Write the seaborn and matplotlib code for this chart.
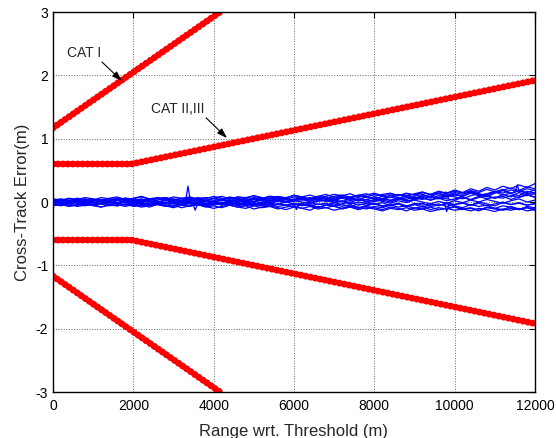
import numpy as np
import pandas as pd
import matplotlib
matplotlib.use("Agg")
import matplotlib.pyplot as plt
import seaborn as sns

# red limit lines (knots, metres)
cat1_x = [0, 4160]
cat1_y = [1.17, 3.0]
cat23_x = [0, 1950, 12000]
cat23_y = [0.6, 0.6, 1.92]

# blue cross-track traces, sampled every 200 m, values in cm
noise_x = [0, 200, 400, 600, 800, 1000, 1200, 1400, 1600, 1800,
           2000, 2200, 2400, 2600, 2800, 3000, 3200, 3400, 3600, 3800,
           4000, 4200, 4400, 4600, 4800, 5000, 5200, 5400, 5600, 5800,
           6000, 6200, 6400, 6600, 6800, 7000, 7200, 7400, 7600, 7800,
           8000, 8200, 8400, 8600, 8800, 9000, 9200, 9400, 9600, 9800,
           10000, 10200, 10400, 10600, 10800, 11000, 11200, 11400, 11600, 11800, 12000]
traces_cm = [
    [3, 5, 2, 6, 4, 3, 7, 5, 4, 6, 5, 8, 4, 6, 7, 3, 6, 8, 5, 7,
     6, 9, 5, 8, 7, 10, 6, 9, 8, 7, 10, 8, 11, 7, 9, 12, 10, 8, 11, 13,
     9, 12, 14, 10, 13, 11, 15, 12, 16, 13, 17, 14, 18, 15, 20, 16, 19, 22, 18, 24, 21],
    [-4, -6, -3, -7, -5, -4, -8, -5, -6, -3, -7, -5, -8, -4, -6, -9, -5, -7, -4, -8,
     -6, -9, -5, -8, -10, -6, -9, -7, -11, -8, -6, -10, -13, -7, -9, -6, -11, -8, -10, -7,
     -9, -12, -8, -10, -14, -9, -11, -8, -12, -10, -7, -11, -9, -13, -8, -10, -12, -7, -11, -9, -13],
    [0, -2, 1, -1, 2, 0, -3, 1, -1, 2, 0, 3, -2, 1, -1, 2, -1, 4, 0, 2,
     1, -2, 3, 0, 2, -1, 4, 1, 3, 0, 2, 5, -1, 3, 1, 4, 0, 6, 2, 4,
     1, 5, 3, 7, 2, 4, 6, 3, 8, 5, 3, 7, 4, 9, 5, 8, 6, 10, 7, 11, 8],
    [2, 4, 1, 3, 5, 2, 4, 3, 6, 2, 4, 2, 5, 3, 7, 4, 2, 6, 4, 3,
     5, 3, 7, 4, 2, 6, 5, 8, 4, 6, 3, 7, 5, 9, 6, 4, 8, 6, 10, 7,
     5, 9, 7, 11, 8, 6, 10, 9, 13, 8, 11, 9, 14, 10, 12, 16, 11, 14, 18, 13, 15],
    [-2, -1, -3, 0, -2, -4, -1, -3, -2, 0, -3, -1, -4, -2, 0, -3, -5, -2, -1, -4,
     -2, -5, -3, -1, -4, -6, -2, -4, -3, -5, -4, -2, -6, -3, -5, -1, -4, -7, -3, -5,
     -2, -6, -4, -3, -7, -2, -5, -3, -6, -1, -4, -2, -5, 0, -3, -6, -1, -4, -2, -5, -3],
    [1, -1, 0, 2, -2, 1, 3, -1, 2, 4, 2, 5, 1, 3, 6, 2, 0, 3, 1, -2,
     0, -3, -1, -4, -2, 1, -1, 2, 4, 1, 5, 3, 7, 4, 2, -1, 1, -3, 0, -2,
     1, 3, 0, 4, 7, 5, 9, 6, 10, 8, 12, 9, 15, 11, 13, 17, 14, 19, 16, 21, 18],
    [-1, 1, -2, 0, 1, -1, -3, 0, -2, 1, -1, -4, -2, 0, -3, -1, 1, -2, -5, -3,
     -1, -4, -2, -6, -3, -5, -2, -4, -7, -5, -8, -4, -6, -9, -5, -7, -10, -6, -8, -11,
     -7, -9, -5, -8, -6, -10, -7, -12, -9, -11, -8, -12, -10, -14, -9, -11, -13, -10, -12, -9, -11],
    [4, 2, 5, 3, 1, 4, 2, 5, 3, 6, 3, 1, 4, 6, 2, 5, 3, 7, 4, 2,
     6, 4, 8, 5, 3, 7, 5, 9, 6, 4, 8, 6, 3, 7, 5, 9, 11, 7, 10, 8,
     12, 9, 13, 10, 14, 11, 15, 12, 17, 14, 19, 15, 21, 17, 23, 19, 25, 21, 27, 23, 29],
    [-5, -3, -6, -4, -2, -5, -3, -6, -4, -7, -4, -2, -5, -3, -6, -2, -4, -1, -3, -5,
     -2, 0, -3, 1, -1, -4, 0, -2, 1, -1, 2, 0, -2, 1, 3, 0, 2, -1, 4, 1,
     3, 6, 2, 5, 1, 4, 7, 3, 6, 2, 5, 8, 3, 7, 10, 6, 9, 4, 8, 12, 7],
    [0, 2, -1, 3, 1, -1, 2, 0, -2, 1, 3, 0, 2, -1, 4, 1, 3, 0, 5, 2,
     -1, 3, 0, 4, 1, 5, 2, -1, 3, 6, 2, 4, 1, 5, 8, 3, 6, 2, 5, 0,
     4, 1, -2, 2, -1, 3, 0, -3, 1, -2, 2, -1, 3, 0, 4, 1, -2, 2, 5, 0, 3],
    [-3, -5, -2, -4, -6, -3, -1, -4, -2, -5, -3, -6, -4, -2, -5, -7, -3, -5, -2, -6,
     -4, -1, -5, -3, -6, -2, -4, -7, -3, -5, -2, -6, -4, -8, -5, -3, -7, -4, -9, -6,
     -3, -7, -5, -2, -6, -4, -8, -5, -3, -7, -4, -1, -5, -2, -6, -3, 0, -4, -1, -5, -2],
    [5, 3, 6, 4, 7, 5, 3, 6, 8, 4, 6, 9, 5, 7, 4, 8, 6, 3, 7, 5,
     9, 6, 4, 8, 5, 10, 7, 4, 9, 6, 11, 8, 5, 9, 12, 7, 10, 13, 8, 11,
     14, 10, 7, 12, 9, 13, 16, 11, 14, 10, 15, 12, 17, 13, 10, 16, 20, 14, 18, 15, 19],
    [-1, -3, 0, -2, -4, -1, -3, 1, -2, -4, 0, -2, -5, -1, -3, 0, -4, -2, 1, -3,
     -5, -2, 0, -3, -1, -4, -6, -2, -4, 0, -3, -5, -1, -4, -2, -6, -3, 0, -5, -2,
     -4, -1, -6, -3, -8, -4, -2, -7, -5, -3, -6, -9, -4, -7, -5, -10, -6, -8, -12, -7, -9],
    [2, 0, 3, 1, -1, 2, 4, 1, 3, 0, 2, 4, 1, -1, 3, 0, 2, 5, 1, 3,
     0, 4, 2, 6, 3, 1, 5, 2, 7, 4, 1, 6, 3, 8, 4, 2, 7, 5, 3, 9,
     6, 3, 8, 5, 10, 7, 4, 9, 6, 11, 8, 5, 10, 13, 9, 6, 12, 8, 15, 10, 13],
    [-6, -4, -7, -5, -3, -6, -8, -4, -6, -3, -5, -8, -6, -4, -7, -5, -9, -6, -4, -7,
     -10, -7, -5, -8, -6, -11, -8, -6, -9, -12, -8, -10, -7, -11, -9, -13, -10, -8, -12, -9,
     -11, -14, -10, -12, -9, -13, -11, -15, -12, -10, -13, -11, -14, -10, -12, -15, -11, -13, -10, -14, -12],
    [1, 3, 2, 0, 2, 4, 1, 3, -1, 2, 1, -1, 2, 0, 3, 1, -2, 1, 3, 0,
     2, 5, 1, 3, 0, 4, 2, 6, 3, 1, 4, 7, 3, 5, 2, 6, 9, 4, 7, 3,
     8, 5, 11, 7, 4, 9, 12, 8, 5, 10, 13, 9, 16, 12, 8, 14, 18, 13, 10, 17, 14],
]
# short spikes and dips seen in the traces
spike_x = [[3300, 3360, 3420], [3480, 3540, 3600], [6000, 6060, 6120],
           [9700, 9780, 9850], [9750, 9800, 9860], [11500, 11560, 11620]]
spike_y = [[0.01, 0.25, 0.02], [-0.02, -0.13, -0.03], [-0.02, -0.12, -0.03],
           [0.05, 0.16, 0.06], [-0.03, -0.15, -0.04], [0.14, 0.27, 0.15]]

rows = []
for k, tr in enumerate(traces_cm):
    for xv, yv in zip(noise_x, tr):
        rows.append((k, xv, yv / 100))
for k, (sx, sy) in enumerate(zip(spike_x, spike_y)):
    for xv, yv in zip(sx, sy):
        rows.append((100 + k, xv, yv))
noise = pd.DataFrame(rows, columns=["run", "x", "y"])

lim_rows = []
for sign, name in [(1, "up"), (-1, "lo")]:
    for xv, yv in zip(cat1_x, cat1_y):
        lim_rows.append(("cat1" + name, xv, sign * yv))
    for xv, yv in zip(cat23_x, cat23_y):
        lim_rows.append(("cat23" + name, xv, sign * yv))
limits = pd.DataFrame(lim_rows, columns=["run", "x", "y"])

sns.set_style("white")
plt.rcParams["font.family"] = ["Liberation Sans", "DejaVu Sans"]
plt.rcParams["axes.unicode_minus"] = False

fig, ax = plt.subplots(figsize=(5.56, 4.38), dpi=100)
fig.subplots_adjust(left=0.0953, right=0.9622, bottom=0.105, top=0.9726)

sns.lineplot(data=noise, x="x", y="y", units="run", estimator=None,
             color="blue", lw=0.9, ax=ax, legend=False)
sns.lineplot(data=limits, x="x", y="y", units="run", estimator=None,
             color="red", lw=3.6, ax=ax, legend=False)
# beaded look of the marker-dense limit lines
sns.lineplot(data=limits, x="x", y="y", units="run", estimator=None,
             color="red", lw=5, linestyle=(0, (0.01, 0.7)),
             dash_capstyle="round", ax=ax, legend=False)

ax.text(784, 2.35, "CAT I", ha="center", va="center", fontsize=10)
ax.annotate("", xy=(1718, 1.91), xytext=(1220, 2.21),
            arrowprops=dict(arrowstyle="-|>,head_length=0.6,head_width=0.2",
                            color="black", lw=0.8, shrinkA=0, shrinkB=0))
ax.text(3112, 1.47, "CAT II,III", ha="center", va="center", fontsize=10)
ax.annotate("", xy=(4333, 1.01), xytext=(3810, 1.33),
            arrowprops=dict(arrowstyle="-|>,head_length=0.6,head_width=0.2",
                            color="black", lw=0.8, shrinkA=0, shrinkB=0))

ax.set_xlim(0, 12000)
ax.set_ylim(-3, 3)
ax.set_xticks([0, 2000, 4000, 6000, 8000, 10000, 12000])
ax.set_yticks([-3, -2, -1, 0, 1, 2, 3])
ax.grid(True, linestyle=":", color="#666666", lw=0.7)
ax.tick_params(direction="in", length=4, width=0.8, labelsize=10,
               top=True, right=True, colors="black")
ax.tick_params(axis="x", pad=5)
for sp in ax.spines.values():
    sp.set_color("black")
    sp.set_linewidth(1)
ax.set_xlabel("Range wrt. Threshold (m)", fontsize=12, labelpad=8)
ax.set_ylabel("Cross-Track Error(m)", fontsize=12)

fig.savefig("out.png", dpi=100)
